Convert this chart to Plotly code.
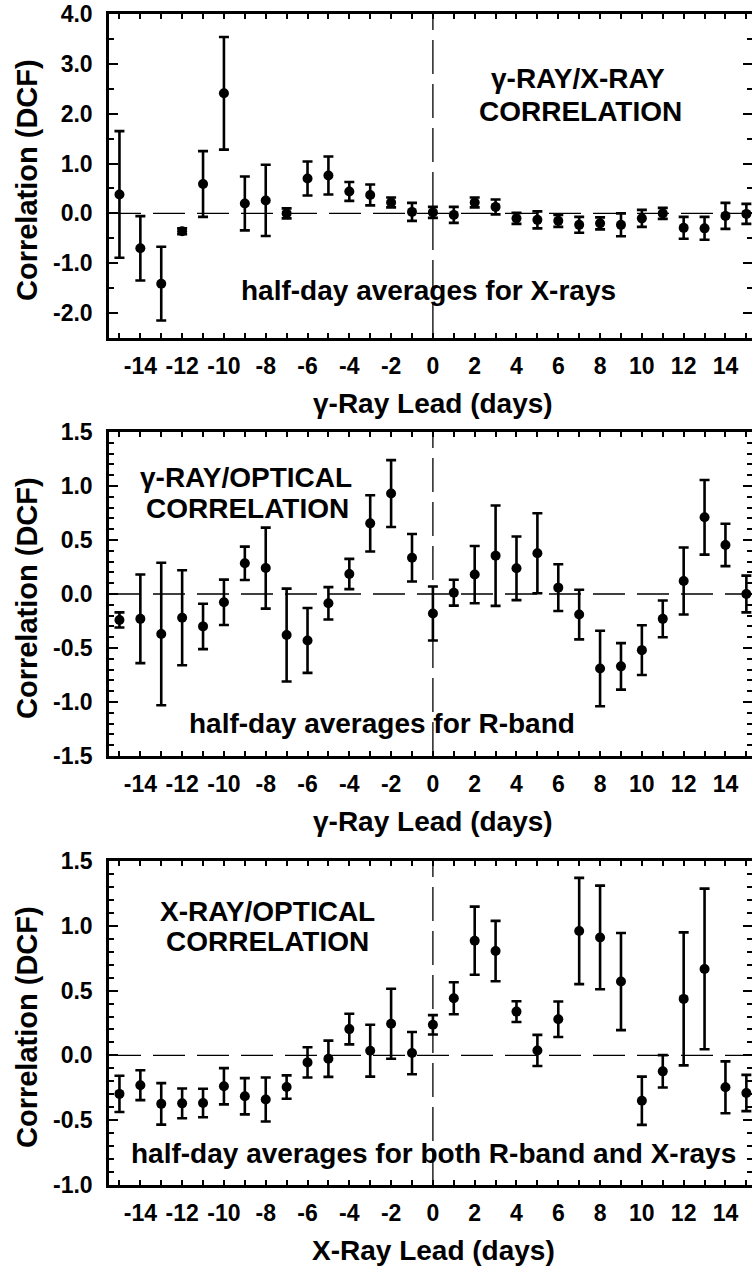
import plotly.graph_objects as go

# lag in days (same grid for all three panels)
days = list(range(-15, 16))

# gamma-ray / X-ray DCF
gx_dcf = [0.38, -0.70, -1.41, -0.36, 0.59, 2.41, 0.20, 0.26, 0.00, 0.70, 0.76,
          0.44, 0.37, 0.22, 0.03, 0.02, -0.03, 0.22, 0.13, -0.10, -0.13, -0.15,
          -0.23, -0.20, -0.23, -0.10, 0.00, -0.29, -0.30, -0.05, -0.01]
gx_err = [1.27, 0.645, 0.74, 0.06, 0.66, 1.13, 0.54, 0.715, 0.10, 0.34, 0.38,
          0.19, 0.21, 0.10, 0.18, 0.11, 0.16, 0.10, 0.15, 0.11, 0.17, 0.12,
          0.16, 0.12, 0.23, 0.17, 0.11, 0.22, 0.23, 0.26, 0.20]

# gamma-ray / optical DCF
go_dcf = [-0.24, -0.23, -0.37, -0.22, -0.30, -0.077, 0.284, 0.24, -0.38, -0.43,
          -0.086, 0.185, 0.654, 0.93, 0.336, -0.18, 0.012, 0.18, 0.355, 0.238,
          0.377, 0.059, -0.19, -0.69, -0.67, -0.52, -0.23, 0.12, 0.71, 0.454, 0.0]
go_err = [0.07, 0.41, 0.66, 0.44, 0.21, 0.21, 0.155, 0.375, 0.43, 0.30, 0.15,
          0.14, 0.26, 0.31, 0.22, 0.25, 0.12, 0.265, 0.465, 0.295, 0.37, 0.216,
          0.23, 0.35, 0.215, 0.23, 0.17, 0.31, 0.345, 0.196, 0.17]

# X-ray / optical DCF
xo_dcf = [-0.297, -0.23, -0.374, -0.37, -0.367, -0.238, -0.315, -0.34, -0.244,
          -0.054, -0.026, 0.203, 0.036, 0.244, 0.018, 0.236, 0.441, 0.885, 0.805,
          0.338, 0.038, 0.279, 0.96, 0.91, 0.57, -0.35, -0.123, 0.436, 0.667,
          -0.246, -0.29]
xo_err = [0.14, 0.115, 0.16, 0.115, 0.11, 0.14, 0.14, 0.17, 0.09, 0.117, 0.14,
          0.118, 0.20, 0.27, 0.163, 0.075, 0.124, 0.263, 0.233, 0.08, 0.12, 0.137,
          0.41, 0.40, 0.375, 0.186, 0.125, 0.513, 0.62, 0.20, 0.14]

x_tickvals = [-14, -12, -10, -8, -6, -4, -2, 0, 2, 4, 6, 8, 10, 12, 14]
x_ticktext = ["-14", "-12", "-10", "-8", "-6", "-4", "-2", "0", "2", "4", "6",
              "8", "10", "12", "14"]

y1_tickvals = [-2, -1, 0, 1, 2, 3, 4]
y1_ticktext = ["-2.0", "-1.0", "0.0", "1.0", "2.0", "3.0", "4.0"]
y2_tickvals = [-1.5, -1.0, -0.5, 0.0, 0.5, 1.0, 1.5]
y2_ticktext = ["-1.5", "-1.0", "-0.5", "0.0", "0.5", "1.0", "1.5"]
y3_tickvals = [-1.0, -0.5, 0.0, 0.5, 1.0, 1.5]
y3_ticktext = ["-1.0", "-0.5", "0.0", "0.5", "1.0", "1.5"]

W, H = 752, 1272
LEFT = 109
FONT = "Liberation Sans, Arial, sans-serif"


def px(x_px):
    return x_px / W


def py(y_px):
    return 1 - y_px / H


panels = [
    dict(dcf=gx_dcf, err=gx_err, top=14, bottom=338, yrange=[-2.5, 4.0],
         tv=y1_tickvals, tt=y1_ticktext, minor=0.5,
         xtitle="γ-Ray Lead (days)",
         labels=[("γ-RAY/X-RAY", 578, 78), ("CORRELATION", 580, 112),
                 ("half-day averages for X-rays", 428, 291)]),
    dict(dcf=go_dcf, err=go_err, top=432, bottom=756, yrange=[-1.5, 1.5],
         tv=y2_tickvals, tt=y2_ticktext, minor=0.1,
         xtitle="γ-Ray Lead (days)",
         labels=[("γ-RAY/OPTICAL", 246, 478), ("CORRELATION", 247, 508),
                 ("half-day averages for R-band", 382, 723)]),
    dict(dcf=xo_dcf, err=xo_err, top=861, bottom=1185, yrange=[-1.0, 1.5],
         tv=y3_tickvals, tt=y3_ticktext, minor=0.1,
         xtitle="X-Ray Lead (days)",
         labels=[("X-RAY/OPTICAL", 267, 911), ("CORRELATION", 267, 941),
                 ("half-day averages for both R-band and X-rays", 433, 1153)]),
]

fig = go.Figure()
layout = dict(
    width=W, height=H,
    margin=dict(l=0, r=0, t=0, b=0, autoexpand=False),
    paper_bgcolor="white", plot_bgcolor="white",
    showlegend=False,
    font=dict(family=FONT, color="black"),
)
shapes = []
annotations = []

for i, p in enumerate(panels, start=1):
    xa = "x" if i == 1 else f"x{i}"
    ya = "y" if i == 1 else f"y{i}"
    yr = f"y{i + 3}"  # right-hand tick-only axis (frame edge is off-canvas)

    fig.add_trace(go.Scatter(
        x=days, y=p["dcf"], xaxis=xa, yaxis=ya,
        mode="markers",
        marker=dict(color="black", size=10),
        error_y=dict(type="data", array=p["err"], color="black",
                     thickness=2.6, width=5),
        cliponaxis=False, hoverinfo="skip",
    ))

    tickstyle = dict(ticks="inside", tickwidth=2, tickcolor="black")
    layout[f"xaxis{'' if i == 1 else i}"] = dict(
        domain=[px(LEFT), 1], anchor=ya, range=[-15.5, 15.27],
        automargin=False, ticklabeloverflow="allow",
        tickmode="array", tickvals=x_tickvals, ticktext=x_ticktext,
        ticklen=5, **tickstyle,
        minor=dict(dtick=1, tick0=0, ticklen=5, **tickstyle),
        showline=True, linewidth=2.5, linecolor="black", mirror="allticks",
        showgrid=False, zeroline=False,
        tickfont=dict(family=FONT, size=23, color="black", weight="bold"),
        ticklabelstandoff=6,
    )
    yaxis = dict(
        domain=[py(p["bottom"]), py(p["top"])], anchor=xa, range=p["yrange"],
        automargin=False, ticklabeloverflow="allow",
        tickmode="array", tickvals=p["tv"], ticktext=p["tt"],
        ticklen=9, **tickstyle,
        minor=dict(dtick=p["minor"], tick0=0, ticklen=5, **tickstyle),
        showgrid=False, zeroline=False,
        tickfont=dict(family=FONT, size=23, color="black", weight="bold"),
        ticklabelstandoff=9,
    )
    layout[f"yaxis{'' if i == 1 else i}"] = dict(
        yaxis, showline=True, linewidth=2.5, linecolor="black")
    layout[f"yaxis{i + 3}"] = dict(
        yaxis, overlaying=ya, side="right", showline=False,
        showticklabels=False)

    # invisible trace so the right-hand tick axis gets drawn
    fig.add_trace(go.Scatter(
        x=[days[0]], y=[p["dcf"][0]], xaxis=xa, yaxis=yr,
        mode="markers", marker=dict(opacity=0), hoverinfo="skip",
    ))

    # dashed reference lines at zero lag / zero correlation
    shapes.append(dict(type="line", xref=f"{xa} domain", yref=ya,
                       x0=0, x1=1, y0=0, y1=0,
                       line=dict(color="black", width=1.3, dash="32px,12px")))
    shapes.append(dict(type="line", xref=xa, yref=f"{ya} domain",
                       x0=0, x1=0, y0=0, y1=1,
                       line=dict(color="black", width=1.3, dash="34px,10px")))

    # axis titles
    annotations.append(dict(
        text="Correlation (DCF)", textangle=-90, xref="paper", yref="paper",
        x=px(27), y=py((p["top"] + p["bottom"]) / 2 + 4),
        xanchor="center", yanchor="middle", showarrow=False,
        font=dict(family=FONT, size=29, color="black", weight="bold")))
    annotations.append(dict(
        text=p["xtitle"], xref="paper", yref="paper",
        x=px(433), y=py(p["bottom"] + 65),
        xanchor="center", yanchor="middle", showarrow=False,
        font=dict(family=FONT, size=28, color="black", weight="bold")))

    for txt, cx, cy in p["labels"]:
        annotations.append(dict(
            text=txt, xref="paper", yref="paper", x=px(cx), y=py(cy),
            xanchor="center", yanchor="middle", showarrow=False,
            font=dict(family=FONT, size=28, color="black", weight="bold")))

layout["shapes"] = shapes
layout["annotations"] = annotations
fig.update_layout(**layout)

# drop the browser's default 8px body margin so the figure fills the window
fig.write_html("out.html", config={"displayModeBar": False},
               post_script="document.body.style.margin = '0';")
